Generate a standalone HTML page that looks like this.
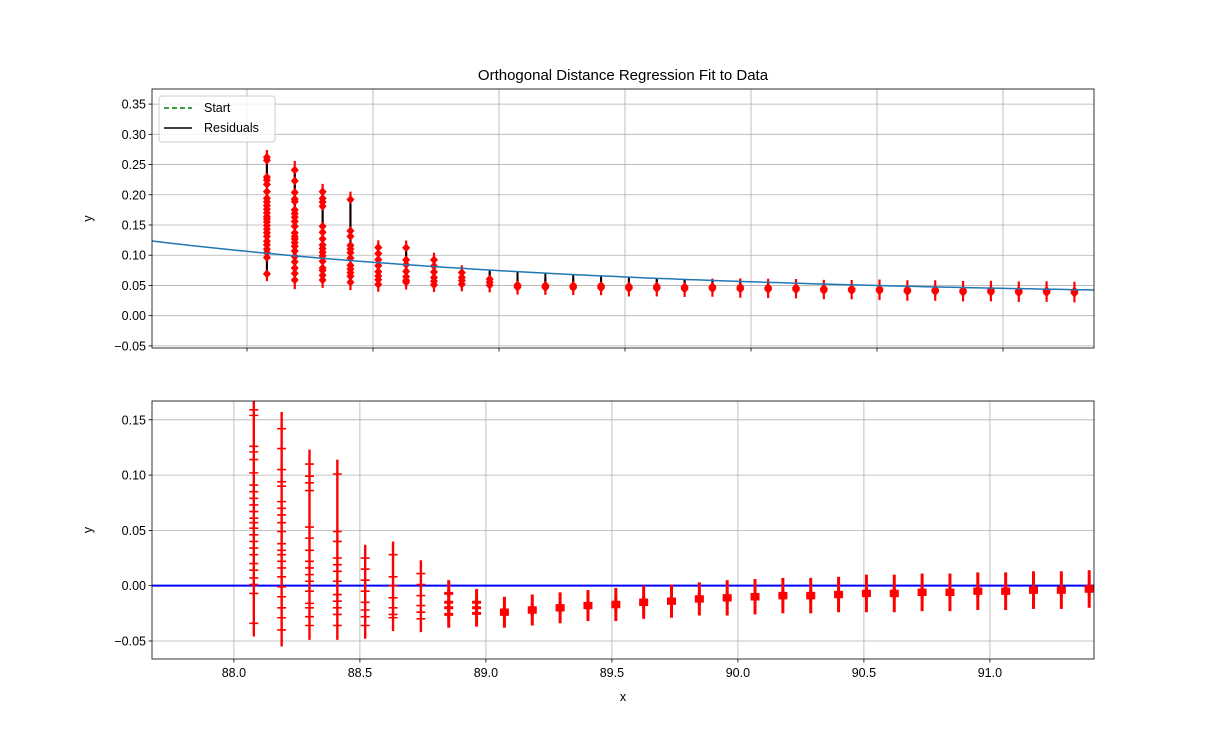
<!DOCTYPE html>
<html><head><meta charset="utf-8"><style>
body{margin:0;background:#fff}
svg{display:block;font-family:"Liberation Sans","DejaVu Sans",sans-serif}
</style></head><body>
<svg id="chart" width="1215" height="742" viewBox="0 0 1215 742"></svg>
<script>
// ---- data ----
const xStart = 88.079, xStep = 0.1105; // column x locations
const xTicks = [88.0, 88.5, 89.0, 89.5, 90.0, 90.5, 91.0];
const xTickLabels = ["88.0","88.5","89.0","89.5","90.0","90.5","91.0"];
const topYTicks = [-0.05,0,0.05,0.1,0.15,0.2,0.25,0.3,0.35];
const topYTickLabels = ["−0.05","0.00","0.05","0.10","0.15","0.20","0.25","0.30","0.35"];
const botYTicks = [-0.05,0,0.05,0.1,0.15];
const botYTickLabels = ["−0.05","0.00","0.05","0.10","0.15"];
const fitParams = [0.03, 0.0935, 0.538, 87.623]; // a + b*exp(-k*(x-x0))
const residuals = [
 [0.159,0.154,0.126,0.121,0.114,0.102,0.091,0.085,0.079,0.073,0.067,0.061,0.057,0.052,0.046,0.040,0.034,0.028,0.020,0.014,0.007,0.001,-0.007,-0.034],
 [0.142,0.124,0.105,0.094,0.090,0.076,0.070,0.064,0.057,0.049,0.038,0.032,0.028,0.022,0.016,0.008,-0.001,-0.010,-0.020,-0.029,-0.040],
 [0.110,0.099,0.093,0.086,0.053,0.043,0.032,0.022,0.016,0.010,0.004,-0.005,-0.016,-0.020,-0.028,-0.036],
 [0.101,0.049,0.040,0.025,0.019,0.013,0.004,-0.008,-0.014,-0.020,-0.026,-0.036],
 [0.025,0.015,0.005,-0.005,-0.015,-0.022,-0.028,-0.036],
 [0.028,0.008,0.000,-0.011,-0.020,-0.026,-0.029],
 [0.011,0.001,-0.009,-0.018,-0.024,-0.030],
 [-0.007,-0.015,-0.020,-0.026],
 [-0.015,-0.020,-0.025],
 [-0.026,-0.024,-0.022],[-0.024,-0.022,-0.020],[-0.022,-0.020,-0.018],[-0.020,-0.018,-0.016],
 [-0.019,-0.017,-0.015],[-0.017,-0.015,-0.013],[-0.016,-0.014,-0.012],[-0.014,-0.012,-0.010],
 [-0.013,-0.011,-0.009],[-0.012,-0.010,-0.008],[-0.011,-0.009,-0.007],[-0.011,-0.009,-0.007],
 [-0.010,-0.008,-0.006],[-0.009,-0.007,-0.005],[-0.009,-0.007,-0.005],[-0.008,-0.006,-0.004],
 [-0.008,-0.006,-0.004],[-0.007,-0.005,-0.003],[-0.007,-0.005,-0.003],[-0.006,-0.004,-0.002],
 [-0.006,-0.004,-0.002],[-0.005,-0.003,-0.001]
];
const errHalf = [0.012,0.015,0.013,0.013,0.012,0.012,0.012,0.012,0.012,0.012,0.012,0.012,0.012,0.013,0.013,0.013,0.013,0.014,0.014,0.014,0.014,0.014,0.015,0.015,0.015,0.015,0.015,0.015,0.015,0.015,0.015];

// ---- layout ----
const L=152,R=1094;
const topA={t:89,b:348,xmin:87.623,xmax:87.623+942/252,ymin:-0.0535,ymax:0.375};
const botA={t:401,b:659,xmin:87.675,xmax:87.675+942/252,ymin:-0.0663,ymax:0.167};
const svg=document.getElementById('chart');
const NS='http://www.w3.org/2000/svg';
function mk(tag,attrs,parent){const e=document.createElementNS(NS,tag);for(const k in attrs)e.setAttribute(k,attrs[k]);(parent||svg).appendChild(e);return e;}
const sx=(a,x)=>L+(x-a.xmin)/(a.xmax-a.xmin)*(R-L);
const sy=(a,y)=>a.b-(y-a.ymin)/(a.ymax-a.ymin)*(a.b-a.t);
const fit=x=>fitParams[0]+fitParams[1]*Math.exp(-fitParams[2]*(x-fitParams[3]));

function axes(a,yt,ytl,name,showX){
  const g=mk('g',{});
  
  
  xTicks.forEach((v,i)=>{const x=sx(a,v);
    const gl=mk('line',{x1:x,x2:x,y1:a.t,y2:a.b,stroke:'#b0b0b0','stroke-width':0.8},g);
    
    mk('line',{x1:x,x2:x,y1:a.b,y2:a.b+3.5,stroke:'#000','stroke-width':0.8},g);
    if(showX){const t=mk('text',{x:x,y:a.b+18,'text-anchor':'middle','font-size':12.5},g);t.textContent=xTickLabels[i];
      }
  });
  yt.forEach((v,i)=>{const y=sy(a,v);
    const gl=mk('line',{x1:L,x2:R,y1:y,y2:y,stroke:'#b0b0b0','stroke-width':0.8},g);
    
    mk('line',{x1:L-3.5,x2:L,y1:y,y2:y,stroke:'#000','stroke-width':0.8},g);
    const t=mk('text',{x:L-6,y:y+4.5,'text-anchor':'end','font-size':12.5},g);t.textContent=ytl[i];
    
  });
  return g;
}
const cp1=mk('clipPath',{id:'c1'});mk('rect',{x:L,y:topA.t,width:R-L,height:topA.b-topA.t},cp1);
const cp2=mk('clipPath',{id:'c2'});mk('rect',{x:L,y:botA.t,width:R-L,height:botA.b-botA.t},cp2);

// top axes
axes(topA,topYTicks,topYTickLabels,'top-axes',false);
const gTop=mk('g',{'clip-path':'url(#c1)'});

residuals.forEach((col,i)=>{
  const xv=xStart+i*xStep, x=sx(topA,xv), f=fit(xv);
  const ys=col.map(r=>f+r);
  const mx=Math.max(...ys), mn=Math.min(...ys);
  const eb=mk('line',{x1:x,x2:x,y1:sy(topA,mx+errHalf[i]),y2:sy(topA,mn-errHalf[i]),stroke:'red','stroke-width':2.2},gTop);
  
  const rl=mk('line',{x1:x,x2:x,y1:sy(topA,Math.max(mx,f)),y2:sy(topA,Math.min(mn,f)),stroke:'#000','stroke-width':2},gTop);
  
  ys.forEach(y=>{const py=sy(topA,y);
    const p=mk('polygon',{points:`${x},${py-4.5} ${x+4},${py} ${x},${py+4.5} ${x-4},${py}`,fill:'red'},gTop);
    });
});
// fit curve
let d='';for(let k=0;k<=100;k++){const xv=topA.xmin+(topA.xmax-topA.xmin)*k/100;d+=(k?'L':'M')+sx(topA,xv).toFixed(1)+','+sy(topA,fit(xv)).toFixed(1);}
const fl=mk('path',{d:d,fill:'none',stroke:'#1f77b4','stroke-width':1.5},gTop);

mk('rect',{x:L,y:topA.t,width:R-L,height:topA.b-topA.t,fill:'none',stroke:'#000','stroke-width':0.8});

// bottom axes
axes(botA,botYTicks,botYTickLabels,'bottom-axes',true);
const gBot=mk('g',{'clip-path':'url(#c2)'});

const zl=mk('line',{x1:L,x2:R,y1:sy(botA,0),y2:sy(botA,0),stroke:'blue','stroke-width':2},gBot);

residuals.forEach((col,i)=>{
  const x=sx(botA,xStart+i*xStep);
  const mx=Math.max(...col), mn=Math.min(...col);
  const dense=col.length<=4;
  const eb=mk('line',{x1:x,x2:x,y1:sy(botA,mx+errHalf[i]),y2:sy(botA,mn-errHalf[i]),stroke:'red','stroke-width':dense?3:2.4},gBot);
  
  col.forEach(r=>{const py=sy(botA,r);
    const p=mk('path',{d:`M${x-4.5},${py}H${x+4.5}M${x},${py-4}V${py+4}`,stroke:'red','stroke-width':dense?3:1.6},gBot);
    });
});
mk('rect',{x:L,y:botA.t,width:R-L,height:botA.b-botA.t,fill:'none',stroke:'#000','stroke-width':0.8});

// titles
function txt(s,attrs,name){const t=mk('text',attrs);t.textContent=s;return t;}
txt('Orthogonal Distance Regression Fit to Data',{x:623,y:80,'text-anchor':'middle','font-size':15},'chart-title');
txt('y',{x:0,y:0,'text-anchor':'middle','font-size':12.5,transform:`translate(92,${(topA.t+topA.b)/2}) rotate(-90)`},'top-y-axis-title');
txt('y',{x:0,y:0,'text-anchor':'middle','font-size':12.5,transform:`translate(92,${(botA.t+botA.b)/2}) rotate(-90)`},'bottom-y-axis-title');
txt('x',{x:623,y:701,'text-anchor':'middle','font-size':12.5},'x-axis-title');

// legend
const lg=mk('g',{});
mk('rect',{x:159,y:96,width:116,height:46,rx:3,fill:'#fff','fill-opacity':0.8,stroke:'#ccc'},lg);
const l1=mk('line',{x1:164,x2:192,y1:108,y2:108,stroke:'green','stroke-width':1.5,'stroke-dasharray':'5,3'},lg);

const t1=mk('text',{x:204,y:112,'font-size':12.5},lg);t1.textContent='Start';
const l2=mk('line',{x1:164,x2:192,y1:128,y2:128,stroke:'#000','stroke-width':1.5},lg);

const t2=mk('text',{x:204,y:132,'font-size':12.5},lg);t2.textContent='Residuals';
</script>
</body></html>
